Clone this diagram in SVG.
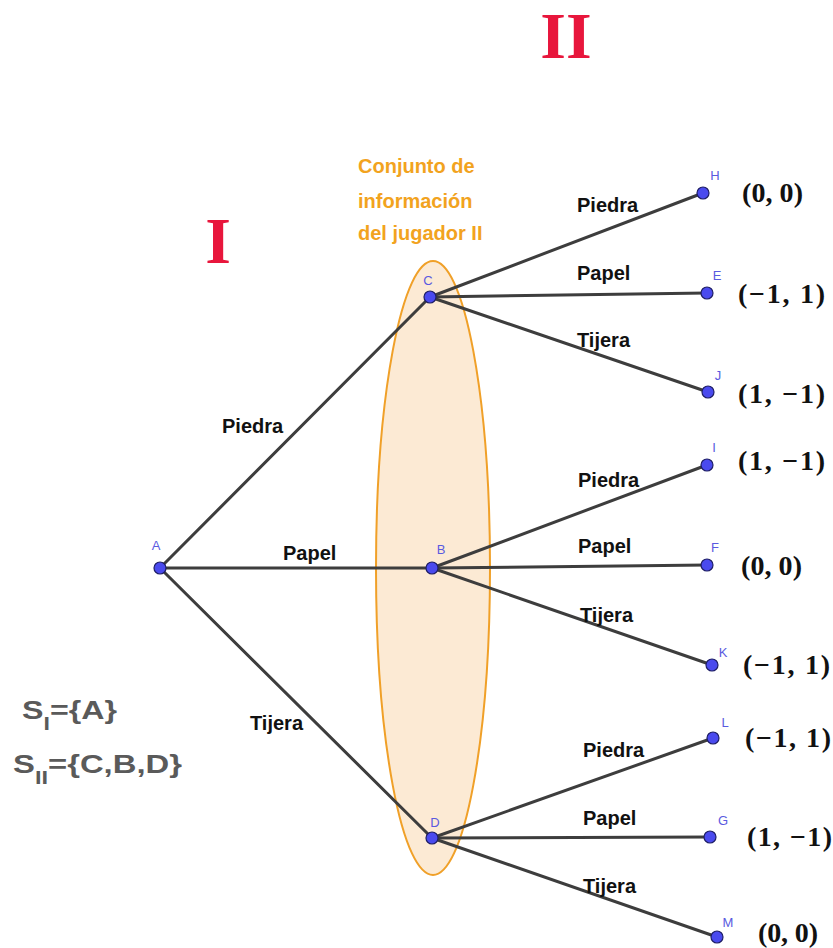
<svg xmlns="http://www.w3.org/2000/svg" width="833" height="948" viewBox="0 0 833 948">
<style>
.edge{stroke:#3d3d3d;stroke-width:3;fill:none;stroke-linecap:round}
.node{fill:#4a4aee;stroke:#1e1e66;stroke-width:1.2}
.nl{font-family:"Liberation Sans",Arial,sans-serif;font-size:13px;fill:#5a5ae0;text-anchor:middle}
.bl{font-family:"Liberation Sans",Arial,sans-serif;font-size:20px;font-weight:bold;fill:#111}
.pay{font-family:"Liberation Serif","Times New Roman",serif;font-size:28px;font-weight:bold;fill:#111}
.pl{font-family:"Liberation Serif","Times New Roman",serif;font-size:66px;font-weight:bold;fill:#e8163c;text-anchor:middle}
.info{font-family:"Liberation Sans",Arial,sans-serif;font-size:20px;font-weight:bold;fill:#f2a31e}
.set{font-family:"Liberation Sans",Arial,sans-serif;font-size:25px;font-weight:bold;fill:#5a5a5a}
</style>
<rect width="833" height="948" fill="#fff"/>
<g id="infoset">
<ellipse cx="433" cy="568" rx="57" ry="307" fill="#fbe3c6" fill-opacity="0.75" stroke="#f0a028" stroke-width="2"/>
</g>
<g id="connectors">
<line class="edge" x1="160" y1="568" x2="430" y2="297"/>
<line class="edge" x1="160" y1="568" x2="432" y2="568"/>
<line class="edge" x1="160" y1="568" x2="432" y2="838"/>
<line class="edge" x1="430" y1="297" x2="703" y2="193"/>
<line class="edge" x1="430" y1="297" x2="707" y2="293"/>
<line class="edge" x1="430" y1="297" x2="708" y2="392"/>
<line class="edge" x1="432" y1="568" x2="707" y2="465"/>
<line class="edge" x1="432" y1="568" x2="707" y2="565"/>
<line class="edge" x1="432" y1="568" x2="712" y2="665"/>
<line class="edge" x1="432" y1="838" x2="713" y2="738"/>
<line class="edge" x1="432" y1="838" x2="710" y2="837"/>
<line class="edge" x1="432" y1="838" x2="717" y2="937"/>
</g>
<g id="edge-labels">
<text class="bl" x="222" y="433">Piedra</text>
<text class="bl" x="283" y="560">Papel</text>
<text class="bl" x="250" y="730">Tijera</text>
<text class="bl" x="577" y="212">Piedra</text>
<text class="bl" x="577" y="280">Papel</text>
<text class="bl" x="577" y="347">Tijera</text>
<text class="bl" x="578" y="487">Piedra</text>
<text class="bl" x="578" y="553">Papel</text>
<text class="bl" x="580" y="622">Tijera</text>
<text class="bl" x="583" y="757">Piedra</text>
<text class="bl" x="583" y="825">Papel</text>
<text class="bl" x="583" y="893">Tijera</text>
</g>
<g id="A"><circle class="node" cx="160" cy="568" r="6"/><text class="nl" x="156" y="550">A</text></g>
<g id="C"><circle class="node" cx="430" cy="297" r="6"/><text class="nl" x="428" y="285">C</text></g>
<g id="B"><circle class="node" cx="432" cy="568" r="6"/><text class="nl" x="441" y="554">B</text></g>
<g id="D"><circle class="node" cx="432" cy="838" r="6"/><text class="nl" x="435" y="827">D</text></g>
<g id="H"><circle class="node" cx="703" cy="193" r="6"/><text class="nl" x="715" y="180">H</text></g>
<g id="E"><circle class="node" cx="707" cy="293" r="6"/><text class="nl" x="717" y="280">E</text></g>
<g id="J"><circle class="node" cx="708" cy="392" r="6"/><text class="nl" x="718" y="380">J</text></g>
<g id="I"><circle class="node" cx="707" cy="465" r="6"/><text class="nl" x="714" y="452">I</text></g>
<g id="F"><circle class="node" cx="707" cy="565" r="6"/><text class="nl" x="715" y="552">F</text></g>
<g id="K"><circle class="node" cx="712" cy="665" r="6"/><text class="nl" x="723" y="657">K</text></g>
<g id="L"><circle class="node" cx="713" cy="738" r="6"/><text class="nl" x="725" y="727">L</text></g>
<g id="G"><circle class="node" cx="710" cy="837" r="6"/><text class="nl" x="723" y="825">G</text></g>
<g id="M"><circle class="node" cx="717" cy="937" r="6"/><text class="nl" x="728" y="927">M</text></g>
<g id="payoffs">
<text class="pay" x="742" y="202" textLength="61">(0, 0)</text>
<text class="pay" x="738" y="303" textLength="87">(−1, 1)</text>
<text class="pay" x="738" y="403" textLength="87">(1, −1)</text>
<text class="pay" x="738" y="470" textLength="87">(1, −1)</text>
<text class="pay" x="741" y="575" textLength="61">(0, 0)</text>
<text class="pay" x="743" y="674" textLength="87">(−1, 1)</text>
<text class="pay" x="745" y="747" textLength="86">(−1, 1)</text>
<text class="pay" x="747" y="846" textLength="85">(1, −1)</text>
<text class="pay" x="758" y="942" textLength="60">(0, 0)</text>
</g>
<g id="players">
<text class="pl" x="218" y="263">I</text>
<text class="pl" x="566" y="58">II</text>
</g>
<g id="info-label">
<text class="info" x="358" y="173">Conjunto de</text>
<text class="info" x="358" y="208">información</text>
<text class="info" x="358" y="240">del jugador II</text>
</g>
<g id="strategy-sets">
<text class="set" x="22" y="719" textLength="95" lengthAdjust="spacingAndGlyphs">S<tspan font-size="18" dy="11">I</tspan><tspan dy="-11">={A}</tspan></text>
<text class="set" x="13" y="773" textLength="169" lengthAdjust="spacingAndGlyphs">S<tspan font-size="18" dy="11">II</tspan><tspan dy="-11">={C,B,D}</tspan></text>
</g>
</svg>
